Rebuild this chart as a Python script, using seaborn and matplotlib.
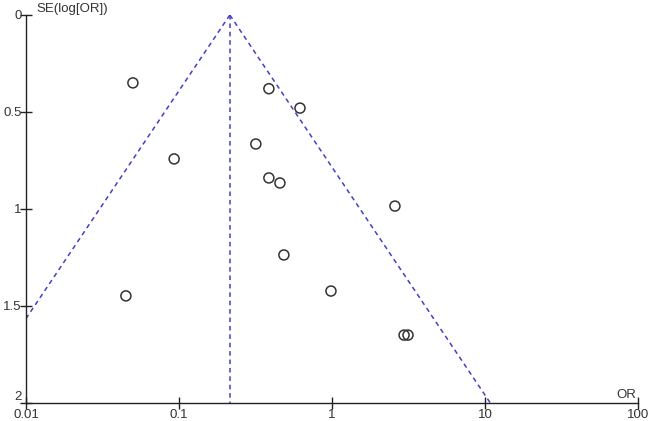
import numpy as np
import pandas as pd
import seaborn as sns
import matplotlib.pyplot as plt

# study estimates
odds_ratio = [0.050, 0.387, 0.618, 0.318, 0.093, 0.387, 0.457, 2.58, 0.485, 0.045, 0.985, 2.96, 3.14]
se_log_or = [0.35, 0.38, 0.48, 0.665, 0.742, 0.84, 0.866, 0.985, 1.237, 1.448, 1.423, 1.65, 1.65]
pooled_or = 0.215
x_ticks = [0.01, 0.1, 1, 10, 100]
x_labels = ["0.01", "0.1", "1", "10", "100"]
y_ticks = [0, 0.5, 1, 1.5, 2]
y_labels = ["0", "0.5", "1", "1.5", "2"]

df = pd.DataFrame({"OR": odds_ratio, "SE": se_log_or})

sns.set_style("white")
plt.rcParams['font.family'] = ['Liberation Sans', 'DejaVu Sans']
plt.rcParams['xtick.bottom'] = True
plt.rcParams['ytick.left'] = True

fig = plt.figure(figsize=(6.49, 4.21), dpi=100)
ax = fig.add_axes([0.040, 0.0428, 0.943, 0.9216])

# funnel: pooled estimate +/- 1.96 SE on log scale
se_line = np.array([0, 2.0])
line_col = "#4040c8"
dash = (0, (3, 2.5))
ax.plot([pooled_or, pooled_or], [0, 2], color=line_col, ls=dash, lw=1.1)
ax.plot(pooled_or * np.exp(-1.96 * se_line), se_line, color=line_col, ls=dash, lw=1.1)
ax.plot(pooled_or * np.exp(1.96 * se_line), se_line, color=line_col, ls=dash, lw=1.1)

sns.scatterplot(data=df, x="OR", y="SE", ax=ax, marker="o", s=52,
                facecolor="none", edgecolor="#333333", linewidth=1.1, zorder=3)

ax.set_xscale("log")
ax.set_xlim(0.01, 100)
ax.set_ylim(2, 0)
ax.set_xticks(x_ticks)
ax.set_xticklabels(x_labels)
ax.set_yticks(y_ticks)
ax.set_yticklabels(y_labels)
ax.minorticks_off()
ax.set_xlabel("")
ax.set_ylabel("")

for side in ["top", "right"]:
    ax.spines[side].set_visible(False)
for side in ["left", "bottom"]:
    ax.spines[side].set_color("#222222")
    ax.spines[side].set_linewidth(1.0)

ax.tick_params(axis="both", which="major", bottom=True, left=True, direction="inout",
               length=8, width=1, color="#222222", labelsize=9.5, labelcolor="#333333")
ax.tick_params(axis="y", pad=-1)
ax.tick_params(axis="x", pad=0)
# lift the bottom y label a touch so it clears "0.01"
ax.get_yticklabels()[-1].set_va("bottom")

ax.text(0.017, 1.0, "SE(log[OR])", transform=ax.transAxes, fontsize=9.5,
        color="#333333", ha="left", va="bottom")
ax.text(0.997, 0.005, "OR", transform=ax.transAxes, fontsize=9.5,
        color="#333333", ha="right", va="bottom")

fig.savefig("out.png", dpi=100)
